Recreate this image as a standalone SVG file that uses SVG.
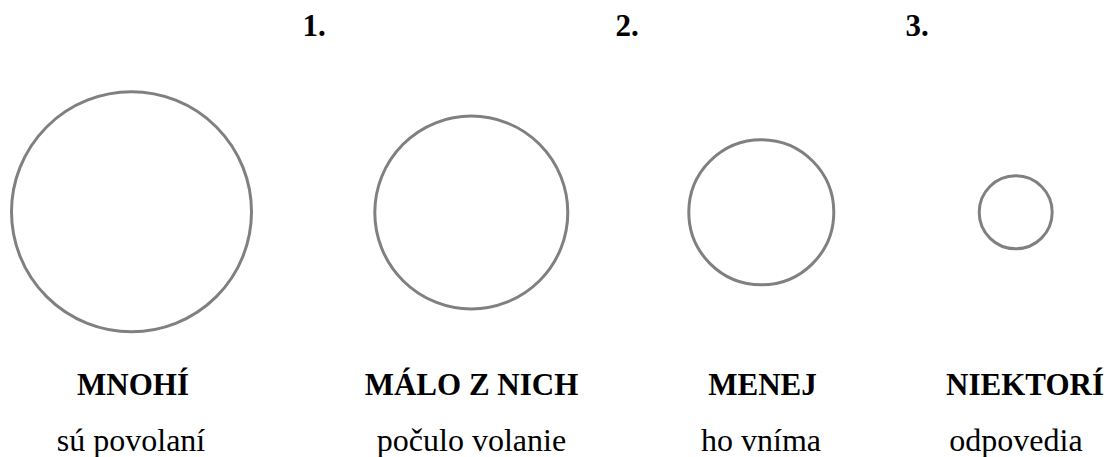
<svg xmlns="http://www.w3.org/2000/svg" width="1118" height="457" viewBox="0 0 1118 457">
<style>
.c{fill:none;stroke:#808080;stroke-width:3}
text{font-family:'Liberation Serif','Times New Roman',serif;fill:#000;text-anchor:middle}
.b{font-weight:bold;font-size:31px}
.r{font-size:32px}
</style>
<rect width="1118" height="457" fill="#fff"/>
<g id="steps">
<text class="b" x="314" y="36">1.</text>
<text class="b" x="627" y="36">2.</text>
<text class="b" x="917" y="36">3.</text>
</g>
<g id="node-mnohi">
<circle class="c" cx="131.5" cy="211.8" r="120"/>
<text class="b" x="133" y="395">MNOHÍ</text>
<text class="r" x="131" y="451">sú povolaní</text>
</g>
<g id="node-malo">
<circle class="c" cx="471.3" cy="212.5" r="96.5"/>
<text class="b" x="471.5" y="395">MÁLO Z NICH</text>
<text class="r" x="471.5" y="451">počulo volanie</text>
</g>
<g id="node-menej">
<circle class="c" cx="761.3" cy="212.3" r="72.5"/>
<text class="b" x="762.5" y="395">MENEJ</text>
<text class="r" x="761" y="451">ho vníma</text>
</g>
<g id="node-niektori">
<circle class="c" cx="1015.7" cy="212.3" r="36.5"/>
<text class="b" x="1025" y="395">NIEKTORÍ</text>
<text class="r" x="1016" y="451">odpovedia</text>
</g>
<g id="connectors"></g>
</svg>
